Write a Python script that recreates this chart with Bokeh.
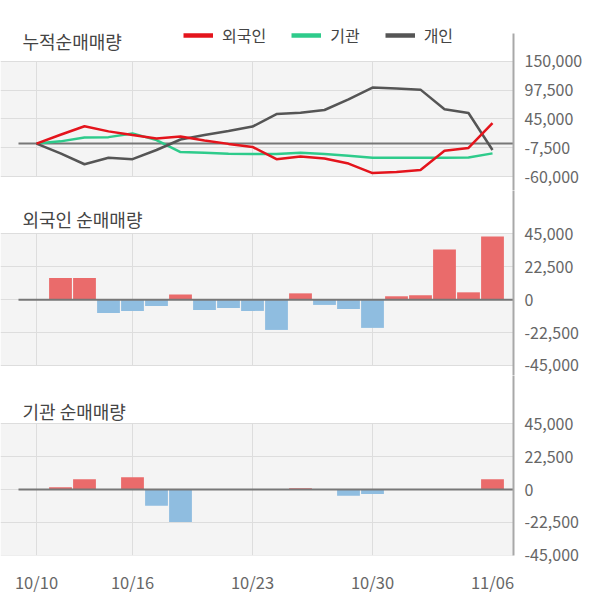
from bokeh.plotting import figure
from bokeh.layouts import column
from bokeh.models import (Range1d, FixedTicker, NumeralTickFormatter, BoxAnnotation,
                          Label, Legend, LegendItem, ColumnDataSource)
from bokeh.embed import file_html
from bokeh.resources import INLINE

# ---------------- data ----------------
dates = ["10/10", "10/11", "10/12", "10/15", "10/16", "10/17", "10/18", "10/19", "10/22", "10/23",
         "10/24", "10/25", "10/26", "10/29", "10/30", "10/31", "11/01", "11/02", "11/05", "11/06"]
xtick_idx = [0, 4, 9, 14, 19]
vgrid_idx = [0, 4, 9, 14]

foreign_cum = [0, 16000, 31500, 22200, 15400, 9300, 13000, 5600, -600, -6200,
               -28400, -23500, -27200, -36400, -53700, -51900, -48200, -13000, -8000, 37100]
inst_cum = [0, 4000, 11100, 11700, 18500, 6200, -15400, -16700, -18500, -19100,
            -19100, -16700, -19100, -22200, -25900, -25900, -25900, -25900, -25300, -17900]
indiv_cum = [0, -17900, -37700, -25900, -28400, -11700, 7400, 15400, 22900, 30900,
             53700, 56200, 61100, 80300, 101900, 100100, 98200, 62400, 55600, -11700]

foreign_net = [0, 14800, 14800, -9100, -7700, -4300, 3600, -7000, -5700, -7700,
               -20700, 4300, -3600, -6400, -19300, 2300, 3000, 34300, 5000, 43200]
inst_net = [0, 1600, 7100, 0, 8400, -11200, -22200, 0, 0, 0,
            0, 900, 0, -4300, -3000, 0, 0, 0, 0, 7100]

cum_ticks = [-60000, -7500, 45000, 97500, 150000]
net_ticks = [-45000, -22500, 0, 22500, 45000]

FONT = "Noto Sans CJK KR"
BG = "#f4f4f4"
GRID = "#dddddd"
ZERO = "#777777"
AXIS = "#a8a8a8"
RED_LINE = "#e4141c"
GREEN_LINE = "#2ecb8b"
DARK_LINE = "#555555"
RED_BAR = "#ea6b6b"
BLUE_BAR = "#8fbde0"

XS, XE = -1.5, 19.875
idx = list(range(len(dates)))
NAN = float("nan")


def make_fig(height, y0, y1, band, ticks, bottom=0, xaxis=False, axis_bounds=None):
    p = figure(width=600, height=height, x_range=Range1d(XS, XE), y_range=Range1d(y0, y1),
               output_backend="svg", toolbar_location=None,
               y_axis_location="right", x_axis_location="below" if xaxis else None,
               min_border_left=0, min_border_right=87, min_border_top=0, min_border_bottom=bottom,
               background_fill_color="white", border_fill_color="white", outline_line_color=None)
    bg = BoxAnnotation(bottom=band[0], top=band[1], fill_color=BG, fill_alpha=1,
                       line_color=None, level="image")
    p.add_layout(bg)
    ax = p.yaxis[0]
    ax.ticker = FixedTicker(ticks=ticks)
    ax.formatter = NumeralTickFormatter(format="0,0")
    ax.axis_line_color = AXIS
    ax.axis_line_width = 2
    ax.major_tick_line_color = None
    ax.minor_tick_line_color = None
    ax.major_label_text_font = FONT
    ax.major_label_text_font_size = "16px"
    ax.major_label_text_color = "#666666"
    ax.major_label_standoff = 5
    if axis_bounds is not None:
        ax.bounds = axis_bounds
    p.ygrid.ticker = FixedTicker(ticks=ticks)
    p.ygrid.grid_line_color = GRID
    p.ygrid.grid_line_width = 1
    p.xgrid.visible = False
    vsrc = ColumnDataSource(dict(x=vgrid_idx))
    p.segment(x0="x", x1="x", y0=band[0], y1=band[1], source=vsrc,
              line_color=GRID, line_width=1)
    if xaxis:
        xa = p.xaxis[0]
        xa.ticker = FixedTicker(ticks=xtick_idx)
        xa.major_label_overrides = {i: dates[i] for i in xtick_idx}
        xa.axis_line_color = None
        xa.major_tick_line_color = None
        xa.minor_tick_line_color = None
        xa.major_label_text_font = FONT
        xa.major_label_text_font_size = "16.5px"
        xa.major_label_text_color = "#666666"
        xa.major_label_standoff = 8
    return p


def title(p, text, y):
    p.add_layout(Label(x=22, y=y, x_units="screen", y_units="screen", text=text,
                       text_font=FONT, text_font_size="18px", text_color="#444444",
                       text_baseline="middle"))


# ---------------- panel 1: cumulative ----------------
p1 = make_fig(190, -85498, 260550, (-60000, 150000), cum_ticks,
              axis_bounds=(-85498, 200450))
p1.segment(x0=-0.75, x1=XE, y0=0, y1=0, line_color=ZERO, line_width=2)
src = ColumnDataSource(dict(x=idx, f=foreign_cum, i=inst_cum, d=indiv_cum))
p1.line("x", "i", source=src, line_color=GREEN_LINE, line_width=2.5)
p1.line("x", "d", source=src, line_color=DARK_LINE, line_width=2.5)
p1.line("x", "f", source=src, line_color=RED_LINE, line_width=2.5)
title(p1, "누적순매매량", 150)

lr = p1.line(x=[NAN], y=[NAN], line_color=RED_LINE, line_width=4.5)
lg = p1.line(x=[NAN], y=[NAN], line_color=GREEN_LINE, line_width=4.5)
ld = p1.line(x=[NAN], y=[NAN], line_color=DARK_LINE, line_width=4.5)
legend = Legend(items=[LegendItem(label="외국인", renderers=[lr]),
                       LegendItem(label="기관", renderers=[lg]),
                       LegendItem(label="개인", renderers=[ld])],
                orientation="horizontal", location=(183, 143),
                glyph_width=30, glyph_height=20, label_height=20, label_standoff=9,
                spacing=25, padding=0, margin=0, border_line_color=None,
                background_fill_alpha=0, label_text_font=FONT, label_text_font_size="16px",
                label_text_color="#444444", label_text_baseline="middle")
p1.add_layout(legend)


# ---------------- panel 2: foreign ----------------
def bars(p, vals):
    colors = [RED_BAR if v >= 0 else BLUE_BAR for v in vals]
    s = ColumnDataSource(dict(x=idx, top=vals, c=colors))
    p.vbar(x="x", top="top", bottom=0, width=0.95, source=s, fill_color="c", line_color=None)
    p.segment(x0=-0.75, x1=XE, y0=0, y1=0, line_color=ZERO, line_width=2)


p2 = make_fig(185, -51834, 74590, (-45000, 45000), net_ticks)
bars(p2, foreign_net)
title(p2, "외국인 순매매량", 157)

# ---------------- panel 3: institution ----------------
p3 = make_fig(180 + 45, -45200, 78080, (-45000, 45000), net_ticks, bottom=45, xaxis=True)
bars(p3, inst_net)
title(p3, "기관 순매매량", 145)

layout = column(p1, p2, p3, spacing=0)
open("out.html", "w").write(file_html(layout, INLINE))
